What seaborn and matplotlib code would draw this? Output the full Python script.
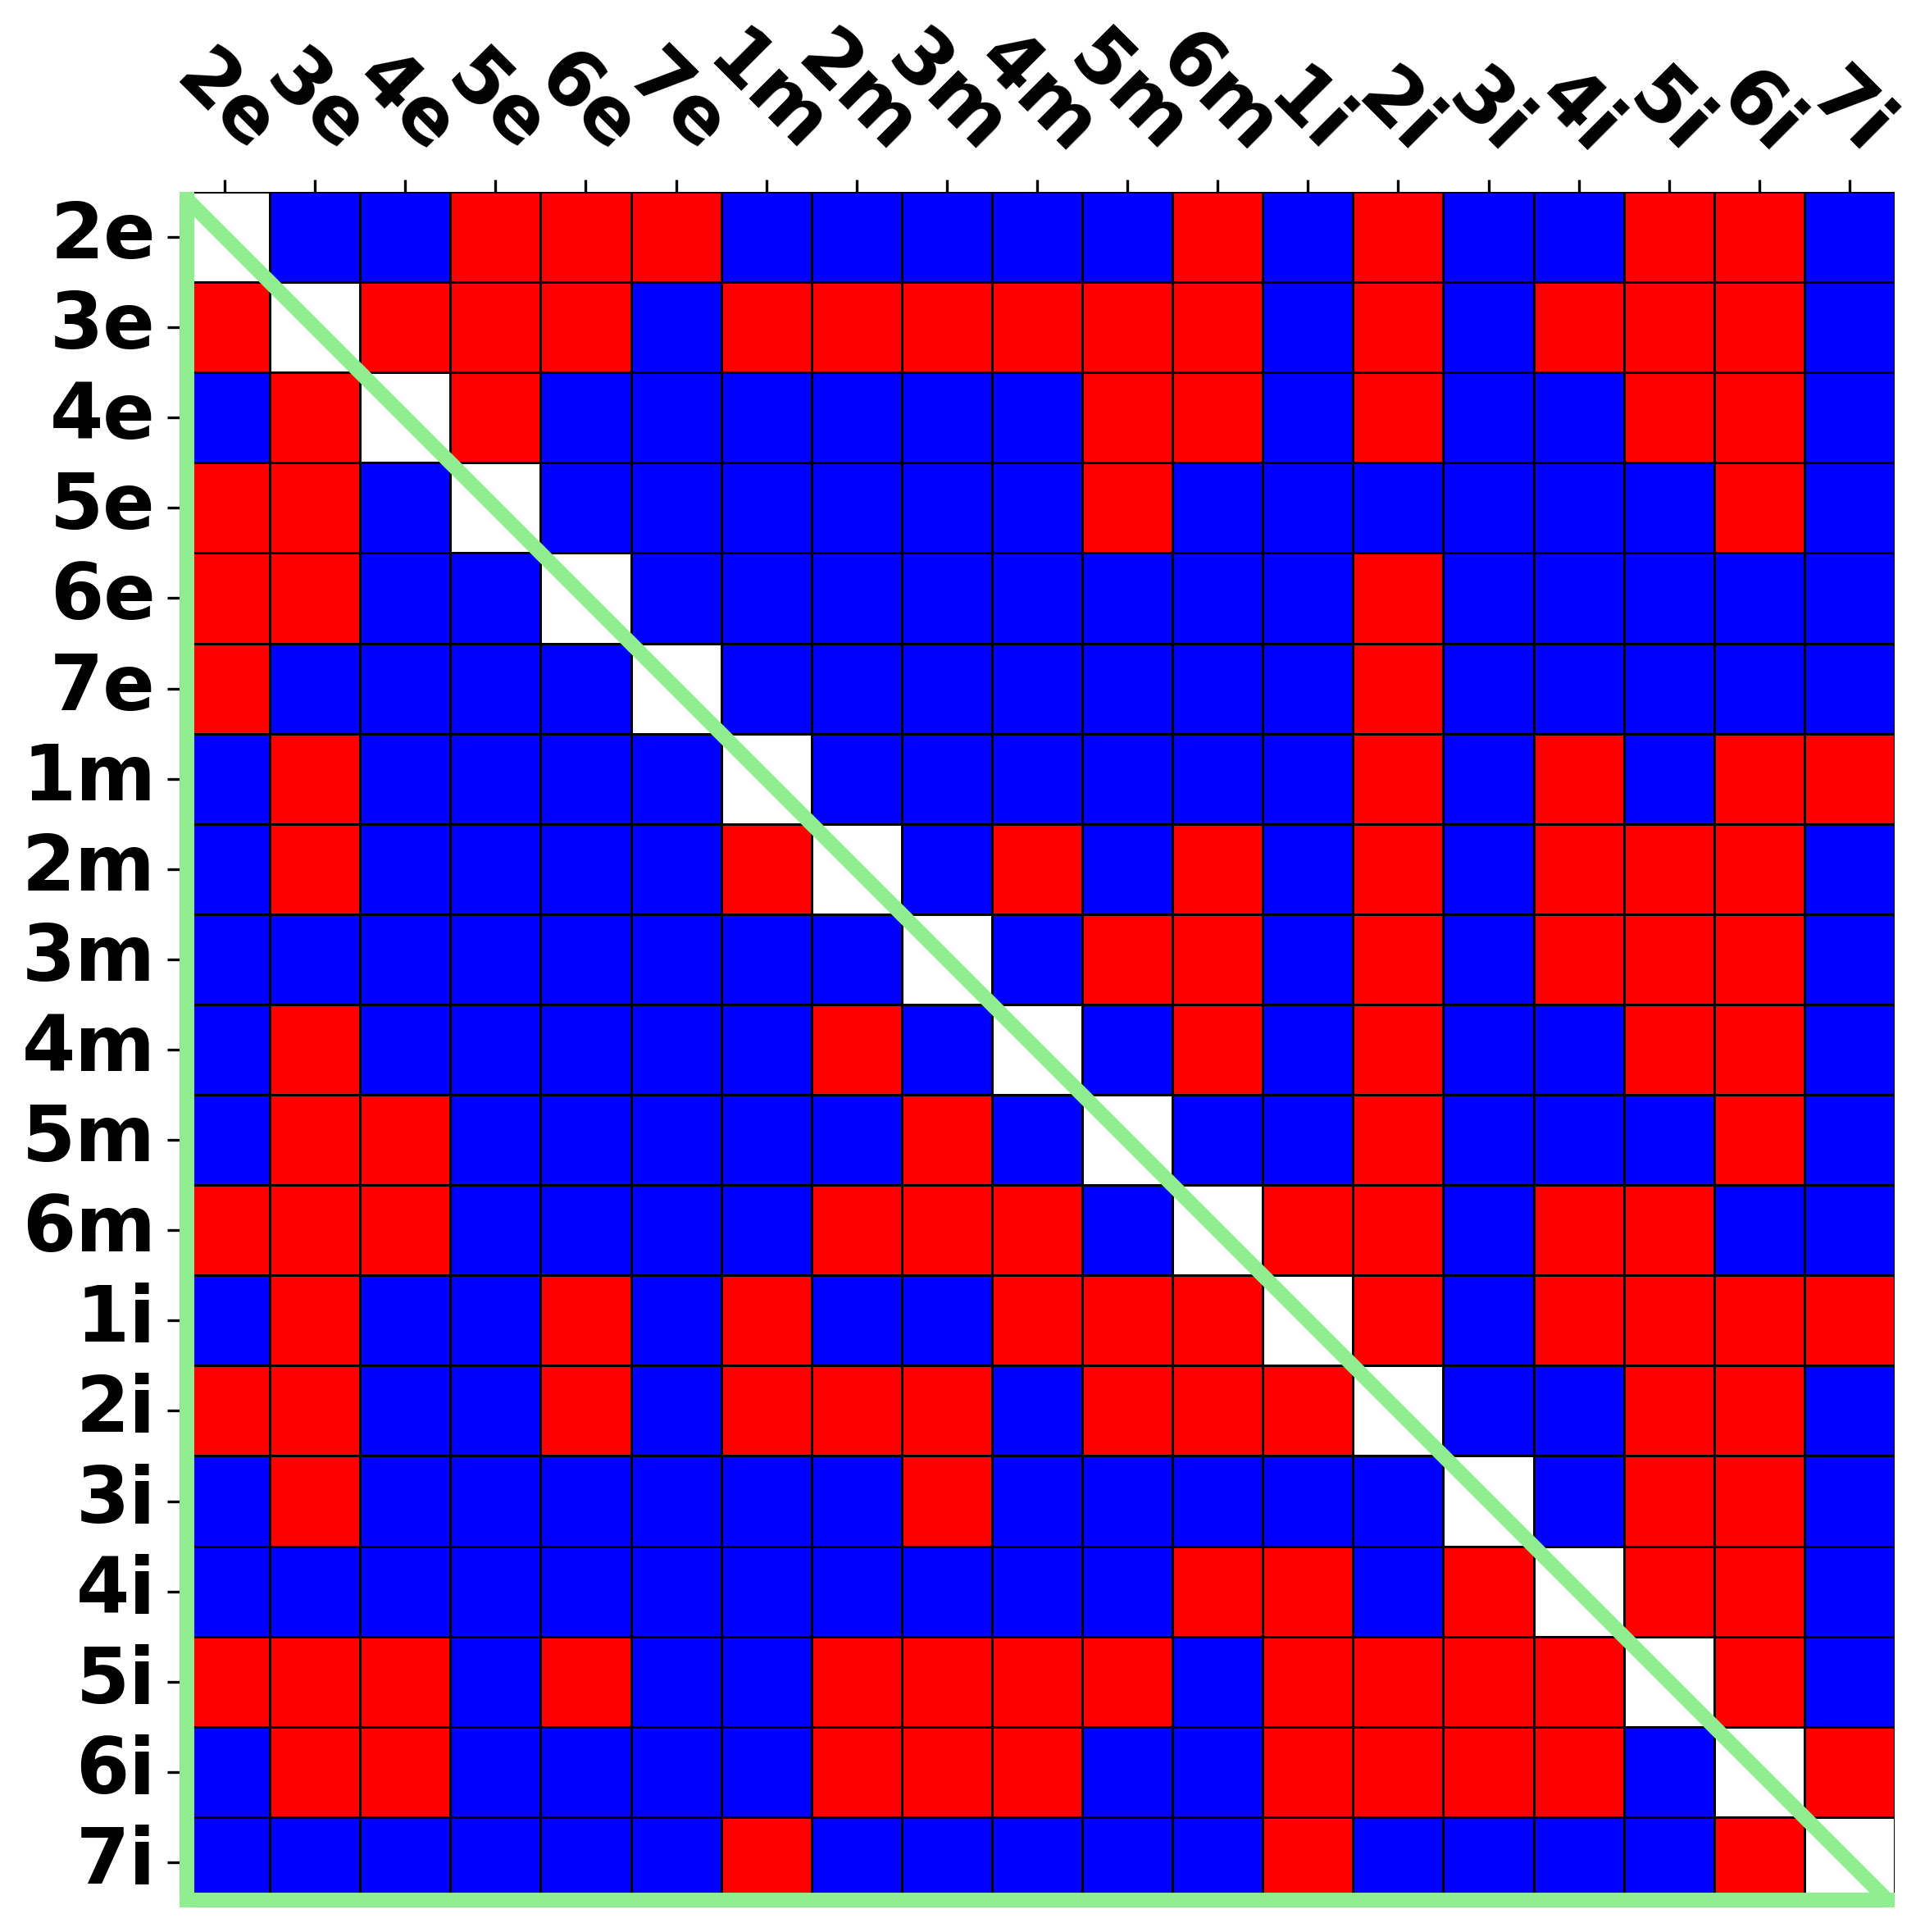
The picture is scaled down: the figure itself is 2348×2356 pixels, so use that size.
import numpy as np
import pandas as pd
import matplotlib
matplotlib.use("Agg")
import matplotlib.pyplot as plt
import seaborn as sns
from matplotlib.colors import ListedColormap

# labels (rows and columns share them)
labels = ["2e", "3e", "4e", "5e", "6e", "7e",
          "1m", "2m", "3m", "4m", "5m", "6m",
          "1i", "2i", "3i", "4i", "5i", "6i", "7i"]

# R = red, B = blue, - = diagonal (blank)
rows = [
    "-BBRRRBBBBBRBRBBRRB",  # 2e
    "R-RRRBRRRRRRBRBRRRB",  # 3e
    "BR-RBBBBBBRRBRBBRRB",  # 4e
    "RRB-BBBBBBRBBBBBBRB",  # 5e
    "RRBB-BBBBBBBBRBBBBB",  # 6e
    "RBBBB-BBBBBBBRBBBBB",  # 7e
    "BRBBBB-BBBBBBRBRBRR",  # 1m
    "BRBBBBR-BRBRBRBRRRB",  # 2m
    "BBBBBBBB-BRRBRBRRRB",  # 3m
    "BRBBBBBRB-BRBRBBRRB",  # 4m
    "BRRBBBBBRB-BBRBBBRB",  # 5m
    "RRRBBBBRRRB-RRBRRBB",  # 6m
    "BRBBRBRBBRRR-RBRRRR",  # 1i
    "RRBBRBRRRBRRR-BBRRB",  # 2i
    "BRBBBBBBRBBBBB-BRRB",  # 3i
    "BBBBBBBBBBBRRBR-RRB",  # 4i
    "RRRBRBBRRRRBRRRR-RB",  # 5i
    "BRRBBBBRRRBBRRRRB-R",  # 6i
    "BBBBBBRBBBBBRBBBBR-",  # 7i
]

code = {"R": 1.0, "B": 0.0, "-": np.nan}
df = pd.DataFrame([[code[c] for c in r] for r in rows], index=labels, columns=labels)

fig = plt.figure(figsize=(2348 / 300, 2356 / 300), dpi=300)
ax = fig.add_axes([219 / 2348, 1 - 2326 / 2356, 2092 / 2348, 2092 / 2356])

sns.heatmap(df, mask=df.isna(), cmap=ListedColormap(["blue", "red"]), vmin=0, vmax=1,
            cbar=False, linewidths=0.6, linecolor="black", ax=ax)

ax.xaxis.tick_top()
ax.tick_params(axis="x", top=True, bottom=False, labeltop=True, labelbottom=False)
ax.set_xticklabels(labels, rotation=-45, fontsize=22.5, fontweight="bold")
ax.set_yticklabels(labels, rotation=0, fontsize=22.5, fontweight="bold", va="center")
ax.set_xlabel("")
ax.set_ylabel("")

# green triangle outline (left edge, bottom edge, diagonal)
n = len(labels)
ax.plot([0.08, 0.08], [-1, n + 1], color="lightgreen", lw=4.3, solid_capstyle="butt")
ax.plot([-1, n + 1], [n - 0.08, n - 0.08], color="lightgreen", lw=4.3, solid_capstyle="butt")
ax.plot([-1, n + 1], [-1, n + 1], color="lightgreen", lw=4.3)

fig.savefig("out.png", dpi=300)
